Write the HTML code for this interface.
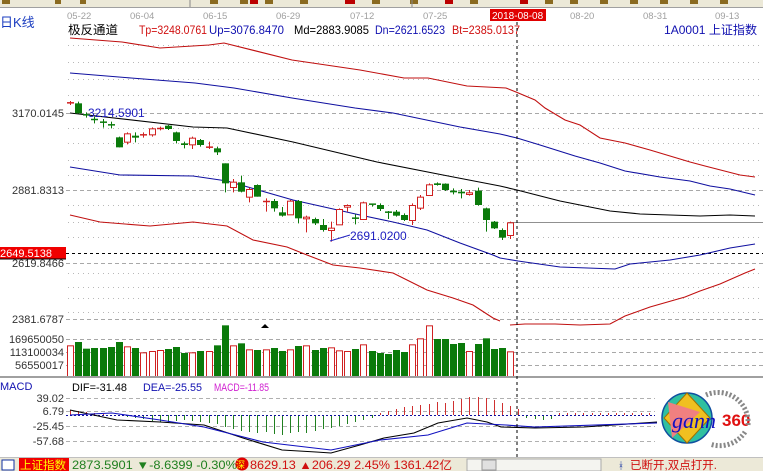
<!DOCTYPE html>
<html><head><meta charset="utf-8">
<style>
html,body{margin:0;padding:0;background:#fff;}
body{width:763px;height:471px;overflow:hidden;position:relative;font-family:"Liberation Sans","Noto Sans CJK SC",sans-serif;}
svg{position:absolute;left:0;top:0;}
</style></head><body>
<svg id="s" width="763" height="471" xmlns="http://www.w3.org/2000/svg" font-family="Liberation Sans, Noto Sans CJK SC, sans-serif">
<rect x="0" y="0" width="763" height="7" fill="#ece9d8"/>
<line x1="0" y1="7.5" x2="763" y2="7.5" stroke="#a0a0a0"/>
<g fill="#8a6a20"><rect x="2" y="0" width="8" height="4"/><rect x="55" y="0" width="6" height="4"/><rect x="80" y="0" width="6" height="4"/><rect x="210" y="0" width="8" height="4"/><rect x="240" y="0" width="8" height="4"/><rect x="250" y="0" width="8" height="4" fill="#b00"/><rect x="265" y="0" width="8" height="4"/><rect x="300" y="0" width="8" height="4"/><rect x="345" y="0" width="10" height="4" fill="#b00"/><rect x="372" y="0" width="8" height="4"/><rect x="410" y="0" width="8" height="4"/><rect x="445" y="0" width="8" height="4" fill="#b00"/><rect x="470" y="0" width="8" height="4"/><rect x="520" y="0" width="8" height="4" fill="#b00"/><rect x="545" y="0" width="8" height="4"/><rect x="570" y="0" width="8" height="4"/><rect x="600" y="0" width="8" height="4"/><rect x="630" y="0" width="8" height="4"/><rect x="660" y="0" width="8" height="4"/><rect x="690" y="0" width="8" height="4"/><rect x="720" y="0" width="8" height="4"/></g>
<line x1="190" y1="0" x2="190" y2="7" stroke="#888"/><line x1="412" y1="0" x2="412" y2="7" stroke="#888"/>
<g font-size="9.5" fill="#a0a0a0">
<text x="67" y="19">05-22</text><text x="130" y="19">06-04</text><text x="203" y="19">06-15</text><text x="276" y="19">06-29</text><text x="350" y="19">07-12</text><text x="423" y="19">07-25</text><text x="570" y="19">08-20</text><text x="643" y="19">08-31</text><text x="715" y="19">09-13</text>
</g>
<rect x="490" y="9" width="56" height="12" fill="#e00000"/>
<text x="492" y="19" font-size="10" fill="#fff">2018-08-08</text>
<text x="0" y="27" font-size="13" fill="#1a3cc0">日K线</text>
<g font-size="12">
<text x="68" y="34" fill="#000" textLength="50" lengthAdjust="spacingAndGlyphs">极反通道</text>
<text x="139" y="34" fill="#d01010" textLength="68" lengthAdjust="spacingAndGlyphs">Tp=3248.0761</text>
<text x="209" y="34" fill="#1010b0" textLength="75" lengthAdjust="spacingAndGlyphs">Up=3076.8470</text>
<text x="294" y="34" fill="#000" textLength="75" lengthAdjust="spacingAndGlyphs">Md=2883.9085</text>
<text x="375" y="34" fill="#1010b0" textLength="70" lengthAdjust="spacingAndGlyphs">Dn=2621.6523</text>
<text x="452" y="34" fill="#d01010" textLength="68" lengthAdjust="spacingAndGlyphs">Bt=2385.0137</text>
<text x="664" y="34" fill="#1010b0" textLength="93" lengthAdjust="spacingAndGlyphs">1A0001 上证指数</text>
</g>
<g id="grid"></g>
<g font-size="11" fill="#333" text-anchor="end">
<text x="64" y="117">3170.0145</text>
<text x="64" y="194">2881.8313</text>
<text x="64" y="267">2619.8466</text>
<text x="64" y="323">2381.6787</text>
<text x="64" y="343">169650050</text>
<text x="64" y="356">113100034</text>
<text x="64" y="369">56550017</text>
<text x="64" y="402">39.02</text>
<text x="64" y="415">6.79</text>
<text x="64" y="430">-25.45</text>
<text x="64" y="445">-57.68</text>
</g>
<rect x="0" y="247" width="66" height="12" fill="#f00000"/>
<line x1="0" y1="259" x2="66" y2="259" stroke="#000"/>
<text x="0" y="257" font-size="11" fill="#fff">2649.5138</text>
<g id="plot"></g>
<line x1="0" y1="377" x2="763" y2="377" stroke="#a0a0a0" stroke-width="2"/>
<g font-size="11">
<text x="0" y="390" fill="#1010b0">MACD</text>
<text x="72" y="391" fill="#000" textLength="55" lengthAdjust="spacingAndGlyphs">DIF=-31.48</text>
<text x="143" y="391" fill="#1010b0" textLength="59" lengthAdjust="spacingAndGlyphs">DEA=-25.55</text>
<text x="214" y="391" fill="#d020d0" textLength="55" lengthAdjust="spacingAndGlyphs">MACD=-11.85</text>
</g>
<line x1="517" y1="22" x2="517" y2="457" stroke="#000" stroke-dasharray="3,3"/>
<text x="88" y="117" font-size="12" fill="#2020c0">3214.5901</text>
<text x="350" y="240" font-size="12" fill="#2020c0">2691.0200</text>
<polyline points="330,241 350,235" fill="none" stroke="#2020c0"/>
<polygon points="261,328 265,324 269,328" fill="#000"/>
<g>
<circle cx="687" cy="418" r="25" fill="#30c0a0" stroke="#1050a0" stroke-width="1.5"/>
<polygon points="687,393 710,418 687,443 664,418" fill="#f0c020" stroke="#a07000"/>
<polygon points="668,402 700,412 672,438" fill="#f08080"/>
<text x="672" y="428" font-size="22" font-style="italic" font-family="Liberation Serif, serif" fill="#1010c0">gann</text>
<text x="722" y="426" font-size="17" font-weight="bold" fill="#e01010">360</text>
<path d="M706,395 A30,30 0 0 1 748,425" fill="none" stroke="#888" stroke-width="5" stroke-dasharray="2,2"/>
<path d="M745,432 A30,30 0 0 1 710,444" fill="none" stroke="#888" stroke-width="5" stroke-dasharray="2,2"/>
</g>
<rect x="0" y="457" width="763" height="14" fill="#ece9d8"/>
<line x1="0" y1="457.5" x2="763" y2="457.5" stroke="#c0c0c0"/>
<rect x="2" y="460" width="12" height="10" fill="#fff" stroke="#1030a0"/>
<rect x="19" y="458" width="50" height="13" fill="#f00000"/>
<text x="20" y="469" font-size="11.5" fill="#ffff00">上证指数</text>
<g font-size="11.5">
<text x="72" y="469" fill="#208020" textLength="165" lengthAdjust="spacingAndGlyphs">2873.5901 ▼-8.6399 -0.30%</text>
<circle cx="242" cy="464" r="6.5" fill="#e00000"/>
<text x="236" y="468" font-size="9" fill="#ffff00">深</text>
<text x="250" y="469" fill="#d01010" textLength="202" lengthAdjust="spacingAndGlyphs">8629.13 ▲206.29 2.45% 1361.42亿</text>
<text x="630" y="469" fill="#d01010">已断开,双点打开.</text>
</g>
<rect x="467" y="459" width="134" height="12" fill="#f4f4f0" stroke="#aaa"/>
<rect x="482" y="460" width="14" height="10" fill="#e0e0e0" stroke="#999"/>
<text x="618" y="469" font-size="10" fill="#1030a0">ᚼ</text>
</svg>
<script>
var NS="http://www.w3.org/2000/svg";
function el(p,t,a){var e=document.createElementNS(NS,t);for(var k in a)e.setAttribute(k,a[k]);p.appendChild(e);return e;}
var g=document.getElementById('grid'),P=document.getElementById('plot');
var dots=[45,62,79,95,128,143,160,175,205,222,237,273,287,298,312];
dots.forEach(function(y){el(g,'line',{x1:68,y1:y+.5,x2:763,y2:y+.5,stroke:'#b8b8b8','stroke-dasharray':'1,4'});});
[113,190,263,319,339,352,365].forEach(function(y){el(g,'line',{x1:66,y1:y+.5,x2:763,y2:y+.5,stroke:'#a8a8a8','stroke-dasharray':'4,3'});});
[398,411,426,441].forEach(function(y){el(g,'line',{x1:66,y1:y+.5,x2:655,y2:y+.5,stroke:'#b0b0b0','stroke-dasharray':'4,3'});});
el(g,'line',{x1:508,y1:222.5,x2:763,y2:222.5,stroke:'#909090'});
el(g,'line',{x1:66,y1:253.5,x2:763,y2:253.5,stroke:'#000','stroke-dasharray':'3,3'});
function pl(pts,c){el(P,'polyline',{points:pts,fill:'none',stroke:c,'stroke-width':1.1});}
pl("70,38 122,42 160,48 209,45 224,43 292,60 326,65 360,70 404,78 428,78 467,86 506,88 516,92 535,100 545,108 565,120 580,125 600,138 625,143 650,150 690,162 705,166 740,175 755,177","#c01010");
pl("70,73 131,78 195,83 234,88 292,98 355,108 393,113 460,127 500,134 517,138 540,145 575,156 600,163 625,171 660,177 690,181 710,186 730,189 755,195","#1010a0");
pl("70,113 193,127 227,128 293,142 377,162 443,175 500,186 517,190 560,201 610,211 640,214 670,215 700,216 730,215 755,216","#000");
pl("70,167 120,175 193,176 227,181 293,200 360,215 393,222 427,230 460,243 493,255 500,258 518,261 560,267 615,269 630,264 670,260 700,255 730,248 755,244","#1010a0");
pl("70,215 100,222 150,226 193,222 227,226 253,240 287,247 307,255 333,265 360,268 393,273 403,278 427,290 453,298 473,305 493,318 500,321","#c01010");
pl("510,325 525,324 555,324 580,325 610,324 625,316 650,307 685,297 700,291 720,284 745,273 755,269","#c01010");
var C=[['r',25,22,18,30],['g',25,55,20,55],['g',58,62,52,68],['g',72,75,65,85],['g',80,82,72,98],['g',88,90,80,100],['g',127,157,125,157],['r',140,115,112,148],['g',122,128,112,142],['r',121,118,112,128],['r',118,100,97,125],['r',101,99,95,106],['g',92,102,90,105],['g',112,138,110,145],['g',145,150,140,160],['r',148,128,125,162],['g',135,150,132,155],['r',158,155,140,162],['g',160,172,155,180],['g',205,265,205,292],['r',276,260,252,292],['g',262,290,242,292],['r',305,282,278,322],['g',270,305,268,305],['r',322,318,310,350],['g',318,340,312,350],['g',352,362,336,365],['r',358,317,315,360],['g',318,370,315,385],['r',370,365,362,412],['g',372,385,368,390],['g',390,405,372,410],['r',405,398,380,440],['r',388,342,340,390],['r',335,330,328,350],['g',368,372,358,388],['r',372,322,320,374],['g',326,330,326,335],['g',330,342,325,348],['g',350,352,348,372],['g',350,362,345,365],['g',360,375,355,378],['r',375,330,325,390],['r',338,305,300,345],['r',300,268,265,302],['g',265,270,262,272],['g',266,285,265,288],['g',287,292,280,298],['g',290,295,282,310],['r',297,292,285,302],['g',287,330,278,332],['g',340,375,338,410],['g',380,400,378,402],['g',405,428,400,435],['r',420,382,380,432]];
var V=[['r',316],['g',306],['g',326],['g',324],['g',324],['g',321],['g',306],['r',319],['g',324],['r',337],['r',333],['r',330],['g',327],['g',321],['g',339],['r',337],['g',333],['r',333],['g',316],['g',256],['r',316],['g',310],['r',328],['g',330],['r',328],['g',324],['g',333],['r',328],['g',318],['r',316],['g',330],['g',324],['r',322],['r',331],['r',333],['g',327],['r',313],['g',333],['g',339],['g',342],['g',330],['g',336],['r',313],['r',295],['r',256],['g',297],['g',297],['g',312],['g',309],['r',333],['g',312],['g',295],['g',327],['g',324],['r',334]];
function Y(z){return 95+z/3;}
var GR='#0a7a0a',RD='#d02020',SP=8.15;
C.forEach(function(c,i){
 var x=Math.round(70+SP*i), col=c[0]=='g'?GR:RD;
 var t=Math.min(Y(c[1]),Y(c[2])), b=Math.max(Y(c[1]),Y(c[2]));
 el(P,'line',{x1:x+.5,y1:Y(c[3]),x2:x+.5,y2:Y(c[4]),stroke:col});
 if(b-t<1.5){el(P,'line',{x1:x-3,y1:t+.5,x2:x+4,y2:t+.5,stroke:col,'stroke-width':1.5});}
 else if(c[0]=='g') el(P,'rect',{x:x-3,y:t,width:7,height:b-t,fill:col});
 else el(P,'rect',{x:x-2.5,y:t+.5,width:6,height:b-t,fill:'#fff',stroke:col});
 var v=V[i]; if(v){var vt=240+v[1]/3;
  if(v[0]=='g') el(P,'rect',{x:x-3,y:vt,width:7,height:377-vt,fill:GR});
  else el(P,'rect',{x:x-2.5,y:vt+.5,width:6,height:376-vt,fill:'#fff',stroke:RD});}
});
var H=[5,4,3,2,1,0,-1,-2,-3,-4,-6,-7,-8,-6,-5,-6,-7,-8,-9,-12,-14,-16,-17,-18,-17,-19,-20,-18,-17,-18,-16,-14,-13,-11,-9,-7,-5,-3,2,4,6,8,9,10,11,13,12,14,16,18,18,17,15,12,9,6,-3,-4,-5,-4,2,2,2,2,2,2,2,2,2,2,2,2];
H.forEach(function(h,i){var x=Math.round(70+SP*i)+.5; el(P,'line',{x1:x,y1:415,x2:x,y2:415-h,stroke:h>0?'#d03030':'#208020'});});
el(P,'line',{x1:66,y1:415.5,x2:655,y2:415.5,stroke:'#1010a0','stroke-dasharray':'2,2'});
pl("70,410 117,420 160,422 204,425 243,438 282,450 316,452 331,453 360,445 384,438 414,433 438,423 467,418 487,422 501,427 535,428 584,427 657,422","#000");
pl("70,415 112,413 160,420 204,427 263,442 331,450 380,440 428,435 467,423 506,425 535,427 657,423","#1010c0");
</script>
</body></html>
